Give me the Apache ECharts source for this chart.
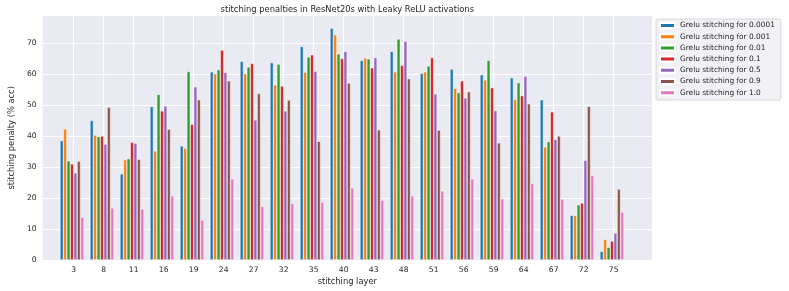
<!DOCTYPE html>
<html>
<head>
<meta charset="utf-8">
<script src="https://cdn.jsdelivr.net/npm/echarts@6/dist/echarts.min.js"></script>
<style>
html,body{margin:0;padding:0;background:#fff;}
#chart{width:789px;height:291px;}
</style>
</head>
<body>
<div id="chart"></div>
<script>
const layers = ['3','8','11','16','19','24','27','32','35','40','43','48','51','56','59','64','67','72','75'];
const seriesNames = ['Grelu stitching for 0.0001','Grelu stitching for 0.001','Grelu stitching for 0.01','Grelu stitching for 0.1','Grelu stitching for 0.5','Grelu stitching for 0.9','Grelu stitching for 1.0'];
const s0001 = [38.5,45.0,27.8,49.5,36.8,60.7,64.1,63.7,68.9,74.8,64.4,67.3,60.2,61.6,59.8,58.8,51.7,14.4,2.8];
const s001  = [42.3,40.3,32.4,35.2,36.1,60.1,60.1,56.5,60.6,72.7,65.2,60.7,60.7,55.4,58.1,51.8,36.5,14.4,6.7];
const s01   = [32.0,39.8,32.7,53.4,60.8,61.4,62.3,63.2,65.5,66.5,64.9,71.3,62.6,54.0,64.4,57.2,38.2,17.8,4.1];
const s1    = [31.0,40.0,38.0,48.1,43.8,67.7,63.4,56.1,66.2,65.0,62.0,62.8,65.3,57.8,55.6,53.0,47.8,18.4,6.1];
const s5    = [28.1,37.4,37.7,49.7,55.9,60.5,45.2,48.1,60.9,67.3,65.3,70.6,53.6,52.3,48.2,59.3,38.9,32.2,8.7];
const s9    = [31.9,49.3,32.5,42.2,51.7,57.8,53.7,51.6,38.3,57.1,42.0,58.5,41.9,54.3,37.8,50.4,40.0,49.6,22.9];
const s10   = [13.8,16.8,16.5,20.7,12.9,26.2,17.3,18.3,18.7,23.3,19.3,20.7,22.3,26.2,19.8,24.7,19.7,27.3,15.5];
const yTicks = [0,10,20,30,40,50,60,70];

const allData = [s0001,s001,s01,s1,s5,s9,s10];
const colors = ['#1f77b4','#ff7f0e','#2ca02c','#d62728','#9467bd','#8c564b','#e377c2'];
const FONT = 'DejaVu Sans';
const TXT = '#262626';
const YMAX = 78.8;

const chart = echarts.init(document.getElementById('chart'), null, {renderer:'canvas'});
const series = allData.map((d,i)=>({
  name: seriesNames[i], type:'bar', xAxisIndex:1, yAxisIndex:1,
  data: d, barWidth: 3.43, barGap:'0%',
  itemStyle:{color: colors[i], borderColor:'#ffffff', borderWidth:0.5},
  emphasis:{disabled:true}, animation:false
}));
// spacer series (empty) so the 7 visible bars sit like matplotlib offsets
series.push({name:'_spacer', type:'bar', xAxisIndex:1, yAxisIndex:1, data: layers.map(()=>null), barWidth:3.43, barGap:'0%', animation:false});

chart.setOption({
  animation:false,
  backgroundColor:'#ffffff',
  title:{text:'stitching penalties in ResNet20s with Leaky ReLU activations', left:342.3, top:1, textAlign:'center',
    textStyle:{fontFamily:FONT, fontSize:8.35, fontWeight:'normal', color:TXT}},
  legend:{data:seriesNames, orient:'vertical', left:656, top:19, itemWidth:15, itemHeight:5, itemGap:3.2,
    icon:'rect', padding:[2.5,6,3.3,3],
    backgroundColor:'rgba(240,240,246,0.95)', borderColor:'#d0d0d0', borderWidth:0.8, borderRadius:2,
    textStyle:{fontFamily:FONT, fontSize:7.4, color:TXT, lineHeight:8}},
  grid:[
    {left:32.3, top:15.7, width:619.7, height:244.3, show:true, backgroundColor:'#EAEAF2', borderWidth:0},
    {left:73.7, top:15.7, width:540, height:244.3, show:false}
  ],
  xAxis:[
    {type:'value', gridIndex:0, min:0, max:1, show:true, axisLine:{show:false}, axisTick:{show:false},
      axisLabel:{show:false}, splitLine:{show:false},
      name:'stitching layer', nameLocation:'middle', nameGap:17.5,
      nameTextStyle:{fontFamily:FONT, fontSize:8.3, color:TXT}},
    {type:'category', gridIndex:1, data:layers, boundaryGap:false,
      axisLine:{show:false}, axisTick:{show:false},
      axisLabel:{fontFamily:FONT, fontSize:7.6, color:TXT, margin:6, interval:0},
      splitLine:{show:true, lineStyle:{color:'#ffffff', width:1.2}}}
  ],
  yAxis:[
    {type:'value', gridIndex:0, min:yTicks[0], max:YMAX, interval:10,
      axisLine:{show:false}, axisTick:{show:false},
      axisLabel:{fontFamily:FONT, fontSize:7.6, color:TXT, margin:6, showMaxLabel:false},
      splitLine:{show:true, lineStyle:{color:'#ffffff', width:1.2}},
      name:'stitching penalty (% acc)', nameLocation:'middle', nameGap:19,
      nameTextStyle:{fontFamily:FONT, fontSize:8.3, color:TXT}},
    {type:'value', gridIndex:1, min:0, max:YMAX, show:false, splitLine:{show:false}}
  ],
  series: series
});
</script>
</body>
</html>
